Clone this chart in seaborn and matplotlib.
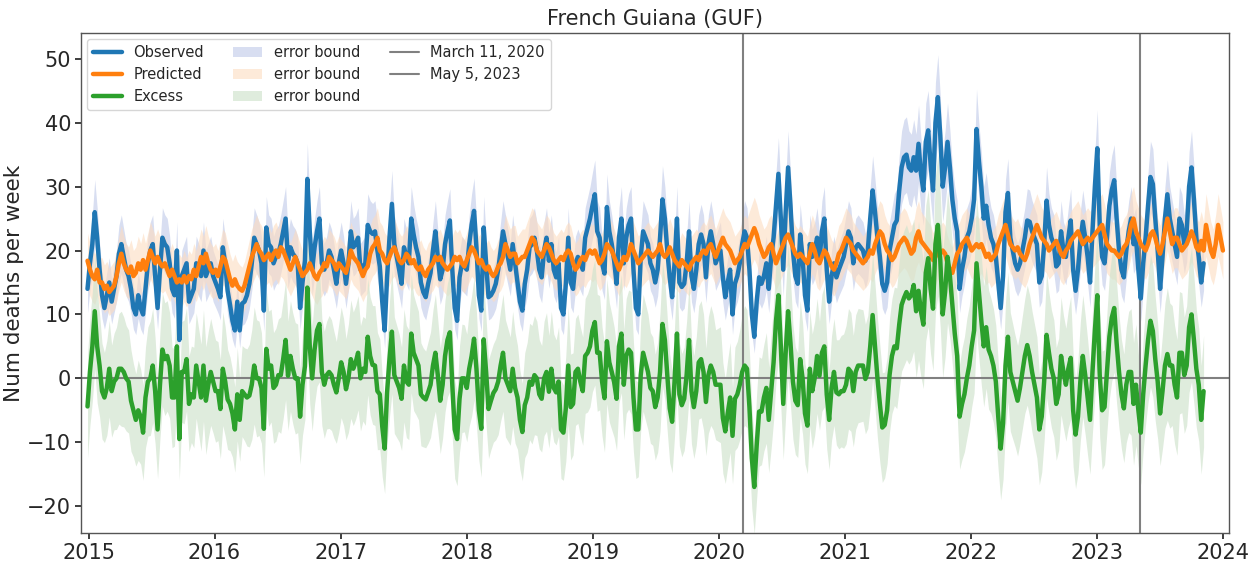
import numpy as np
import pandas as pd
import matplotlib
matplotlib.use("Agg")
import matplotlib.pyplot as plt
import matplotlib.dates as mdates
import seaborn as sns

# Weekly all-cause deaths, French Guiana (first week starts 2014-12-29)
observed = [
    14, 18, 21, 26, 22, 17, 13, 11, 13, 15,
    12, 14, 16, 19.5, 21, 19, 17, 16, 14, 11,
    10, 13, 11, 10, 14, 18, 20, 21, 16, 11,
    17, 22, 21, 20.5, 18, 14, 13, 20, 6, 16,
    17, 18, 12, 13, 14, 18, 17, 16, 20, 16,
    17, 18, 16, 15, 14, 12.7, 20.5,
    18, 13.7, 11.5, 9, 7.5, 12, 7.5, 11.7, 12, 13,
    14.8, 18, 22, 21, 20, 18, 10.6, 23.6, 21, 20.5,
    18, 19, 19.5, 21, 23, 25, 18.4, 20.5, 19.5, 19,
    18, 11, 15, 18.4, 31.2, 23, 17, 20.5, 23, 25,
    18, 17, 18, 20, 19, 17, 14.8, 18, 20, 18,
    14.8, 18, 23, 20.5, 21, 22, 17, 17.5, 18, 24,
    23, 22.6, 23, 20, 17.5, 12, 7.5, 15.8, 22, 27.3,
    21, 19, 17, 14.8, 20.5, 19, 18, 25, 22.5, 20.5,
    19, 15, 13.5, 12.7, 14.8, 16.5, 20, 23, 19, 15.5,
    17, 21, 23, 24.7, 17, 11, 9, 15.8, 18, 17.5,
    17, 21, 24, 26.2, 20.5, 13, 10.6, 23.6, 18, 12.7,
    13, 13.7, 14.8, 17, 20, 23, 21, 19, 17, 21,
    18, 15, 12, 10.6, 14.8, 17, 20.5, 21, 22, 20,
    17, 15.8, 20, 22, 18.4, 21, 17, 15.8, 18, 11,
    10, 14.8, 22, 15, 14, 18, 19, 18, 17, 22,
    23.5, 25, 27, 28.8, 23, 22, 18, 16.4, 26.8, 23,
    21, 18.4, 14.8, 22, 25, 18, 22, 24, 25, 17,
    11, 10, 19, 23, 22, 21, 18, 17, 15, 17,
    22, 28, 25, 20, 15.8, 12.7, 18, 25, 15, 14.3,
    14.8, 18, 23, 16, 14, 17, 21, 22.5, 21, 15.8,
    21, 23, 21, 18, 19, 20, 15.8, 12.7, 15, 17,
    10, 14.8, 16, 18, 21, 23, 22, 17, 10, 6.5,
    12, 15.8, 14.8, 16, 18, 14, 19, 22, 27, 32,
    25, 17, 26, 33, 27, 20, 16, 14.8, 22.5,
    19, 13, 10.6, 21, 19, 20, 22, 18.4, 23, 25,
    17, 12, 16, 18, 15.8, 17, 18, 19, 21, 23,
    22, 18, 20.5, 21, 20.5, 20, 18.4, 20, 25, 29.4,
    26, 22, 19, 14.8, 13.7, 15, 20, 22, 24, 24.7,
    29.4, 33, 34.6, 35, 33, 32.5, 34.6, 32.5, 36.7, 32,
    29.4, 37, 38.8, 33.5, 29.4, 40, 44, 38, 30, 33,
    37, 33, 28, 25, 23, 14, 17, 19, 22, 23,
    25, 28, 39, 34, 30, 25, 27, 24, 22, 21,
    19, 15, 11, 16, 26, 29, 22, 20, 18, 17,
    18, 20, 22, 24.7, 24.5, 23, 22, 21, 15, 16,
    21, 27.8, 24, 22, 21, 17.5, 18, 23, 20, 19,
    22, 24.7, 17, 13.7, 17, 21.6, 24.5, 22, 19,
    15, 23, 30, 36, 24, 19, 18, 22, 27, 29.5,
    31, 25, 20, 17, 15.8, 20, 23, 25, 21, 22,
    17, 12.5, 18, 22, 27, 31.5, 30.4, 25, 20, 14,
    19, 25, 28.8, 25, 23, 21, 19, 25, 24, 21,
    23, 30, 33, 28, 22, 19, 15, 18,
]

# Model baseline for the same weeks (runs to the end of 2023)
predicted = [
    18.4, 17, 16, 15.5, 17, 15, 15, 14, 14.5, 13.5,
    14, 14.5, 16, 18, 19.5, 18, 17, 16.5, 17.5, 16,
    16.5, 18, 17, 18.5, 17, 18.5, 20, 19, 18, 19,
    18, 17.5, 18, 17, 16, 17, 16, 15, 15.5, 15,
    16, 15, 16, 15.5, 17, 16, 17.5, 19, 18, 19.5,
    18, 17, 16.5, 17, 16, 17.5, 19,
    18.5, 17, 15.5, 14.5, 15.5, 14.5, 14, 13.7, 14.5, 16,
    17.5, 19, 20, 21, 20, 19.5, 18.5, 19, 19.5, 18.5,
    19.5, 20, 19, 20.5, 20, 19, 18, 17, 18, 19,
    18, 17, 16, 16.5, 17, 18, 17, 16, 15.5, 16.5,
    17, 18, 17.5, 19, 18.5, 18, 17, 18, 17.5, 17,
    16.5, 18, 20, 19, 18.5, 18, 17, 16, 17, 17.5,
    19.5, 20.5, 21, 22, 20, 19.5, 18.5, 18, 19, 20,
    20.5, 19.5, 18.5, 18, 18.5, 19.5, 19, 18, 18.5, 17.5,
    17, 17.5, 16.5, 16, 17, 17.5, 18, 19, 18.5, 19,
    18, 17.5, 17, 17.5, 18, 19, 18.5, 19, 18, 17.5,
    18.5, 19.5, 20.5, 20, 19, 18, 18.5, 17.5, 17, 17.5,
    16.5, 16, 16.5, 17.5, 18, 19, 21, 20, 19, 19.5,
    19.5, 18, 18.5, 19, 19, 20, 21, 22, 21.5, 20,
    19.5, 19, 20, 21, 20.5, 19.5, 18.5, 18, 18.5, 19,
    18.5, 19.5, 20, 19.5, 18, 17, 17.5, 18.5, 19, 18.5,
    19.5, 20, 19.5, 20, 19, 18, 18.5, 19.5, 21, 20.5,
    20, 19, 18, 17, 18, 19, 18.5, 19.5, 21, 20,
    19, 18, 18.5, 19, 19.5, 20, 19.5, 19, 19.5, 20,
    21, 19.5, 19, 19.5, 20.5, 19.5, 18.5, 18, 17.5, 18.5,
    18, 17.5, 17, 18, 18.5, 19, 18.5, 19.5, 20, 19.5,
    20.5, 21, 20, 19, 20, 21, 22, 21, 20.5, 20,
    19, 18, 18.5, 19, 20, 21, 20.5, 21.5, 22.5, 23.5,
    22.5, 21, 20, 19, 19.5, 20.5, 21, 19.5, 18, 19,
    20, 21, 22, 22.5, 21.5, 20.5, 19.5, 19, 19.5,
    19, 18.5, 18, 19.5, 21, 20, 18.5, 18, 19, 20,
    19.5, 18.5, 17.5, 17, 18, 19.5, 20, 21, 22, 21.5,
    21, 20, 19.5, 19, 18.5, 18, 18.5, 19, 20, 19.5,
    21, 22, 23, 22.5, 21, 20, 19.5, 18.5, 19, 20,
    21, 21.5, 22, 21.5, 20.5, 19.5, 20, 22, 23, 21.5,
    21, 20.5, 20, 19.5, 18.5, 19, 20, 19.5, 20, 19.5,
    18, 17, 16.5, 18, 19.5, 20, 21, 21.5, 22, 21,
    20, 20.5, 21, 20.5, 21, 20, 19, 19.5, 18.5, 19,
    19.5, 21, 22, 23, 24, 22.5, 21, 20.5, 20, 20.5,
    19.5, 19, 18.5, 19.5, 21, 22, 23, 24, 23, 22,
    21.5, 21, 20, 20.5, 21, 21.5, 20.5, 19.5, 19, 20,
    20.5, 21.5, 22, 22.5, 23, 22, 21, 21.5, 22,
    21.5, 22, 22.5, 23, 23.5, 24, 22.5, 21, 20.5, 20,
    20, 19.5, 19, 19.5, 20.5, 21, 22, 24, 25, 23,
    22, 21, 20.5, 20, 21, 22.5, 23, 22, 20.5, 19.5,
    21, 23, 25, 23, 21, 22, 22, 21, 20, 20.5,
    21, 22, 23, 22, 20.5, 20, 21.5, 20, 24, 22,
    20, 19, 21, 24, 22, 20,
]

first_week = "2014-12-29"
marker_dates = ["2020-03-11", "2023-05-05"]
marker_labels = ["March 11, 2020", "May 5, 2023"]
title = "French Guiana (GUF)"
y_label = "Num deaths per week"

obs = np.asarray(observed, dtype=float)
pred = np.asarray(predicted, dtype=float)
n_obs = len(obs)
weeks = pd.date_range(first_week, periods=len(pred), freq="7D")
excess = obs - pred[:n_obs]

# Poisson (+/- one standard deviation) bounds; excess bound combines both
obs_lo, obs_hi = obs - np.sqrt(obs), obs + np.sqrt(obs)
pred_lo, pred_hi = pred - np.sqrt(pred), pred + np.sqrt(pred)
exc_lo = obs_lo - pred_hi[:n_obs]
exc_hi = obs_hi - pred_lo[:n_obs]

df_obs = pd.DataFrame({"week": weeks[:n_obs], "deaths": obs})
df_pred = pd.DataFrame({"week": weeks, "deaths": pred})
df_exc = pd.DataFrame({"week": weeks[:n_obs], "deaths": excess})

sns.set_theme(style="ticks")
plt.rcParams["font.family"] = ["DejaVu Sans"]

fig = plt.figure(figsize=(12.59, 5.63), dpi=100)
ax = fig.add_axes([0.0643, 0.0533, 0.9117, 0.8877])

blue, orange, green = "#1f77b4", "#ff7f0e", "#2ca02c"
lw = 3.2

sns.lineplot(data=df_obs, x="week", y="deaths", ax=ax, color=blue,
             linewidth=lw, errorbar=None, zorder=3)
sns.lineplot(data=df_pred, x="week", y="deaths", ax=ax, color=orange,
             linewidth=lw, errorbar=None, zorder=4)
sns.lineplot(data=df_exc, x="week", y="deaths", ax=ax, color=green,
             linewidth=lw, errorbar=None, zorder=5)
h_obs, h_pred, h_exc = ax.get_lines()[:3]

b_obs = ax.fill_between(weeks[:n_obs], obs_lo, obs_hi, color="#c3cdea",
                        alpha=0.65, linewidth=0, zorder=1)
b_pred = ax.fill_between(weeks, pred_lo, pred_hi, color="#fddcc0",
                         alpha=0.6, linewidth=0, zorder=1)
b_exc = ax.fill_between(weeks[:n_obs], exc_lo, exc_hi, color="#d2e4cf",
                        alpha=0.7, linewidth=0, zorder=1)

ax.axhline(0, color="grey", linewidth=1.5, zorder=2)
v_handles = []
for d in marker_dates:
    v_handles.append(ax.axvline(pd.Timestamp(d), color="grey",
                                linewidth=1.5, zorder=2))

ax.set_xlim(pd.Timestamp("2014-12-10"), pd.Timestamp("2024-01-18"))
ax.set_ylim(-24.2, 54)
ax.xaxis.set_major_locator(mdates.YearLocator())
ax.xaxis.set_major_formatter(mdates.DateFormatter("%Y"))
ax.tick_params(labelsize=15, length=4, pad=3)
ax.set_xlabel("")
ax.set_ylabel(y_label, fontsize=15.5, labelpad=2)
ax.set_title(title, fontsize=15, pad=6)
for s in ax.spines.values():
    s.set_color("#555555")
    s.set_linewidth(1.0)

handles = [h_obs, h_pred, h_exc, b_obs, b_pred, b_exc] + v_handles
labels = ["Observed", "Predicted", "Excess",
          "error bound", "error bound", "error bound"] + marker_labels
ax.legend(handles, labels, loc="upper left", ncol=3, fontsize=10.5,
          frameon=True, borderaxespad=0.4)

fig.savefig("out.png", dpi=100)
